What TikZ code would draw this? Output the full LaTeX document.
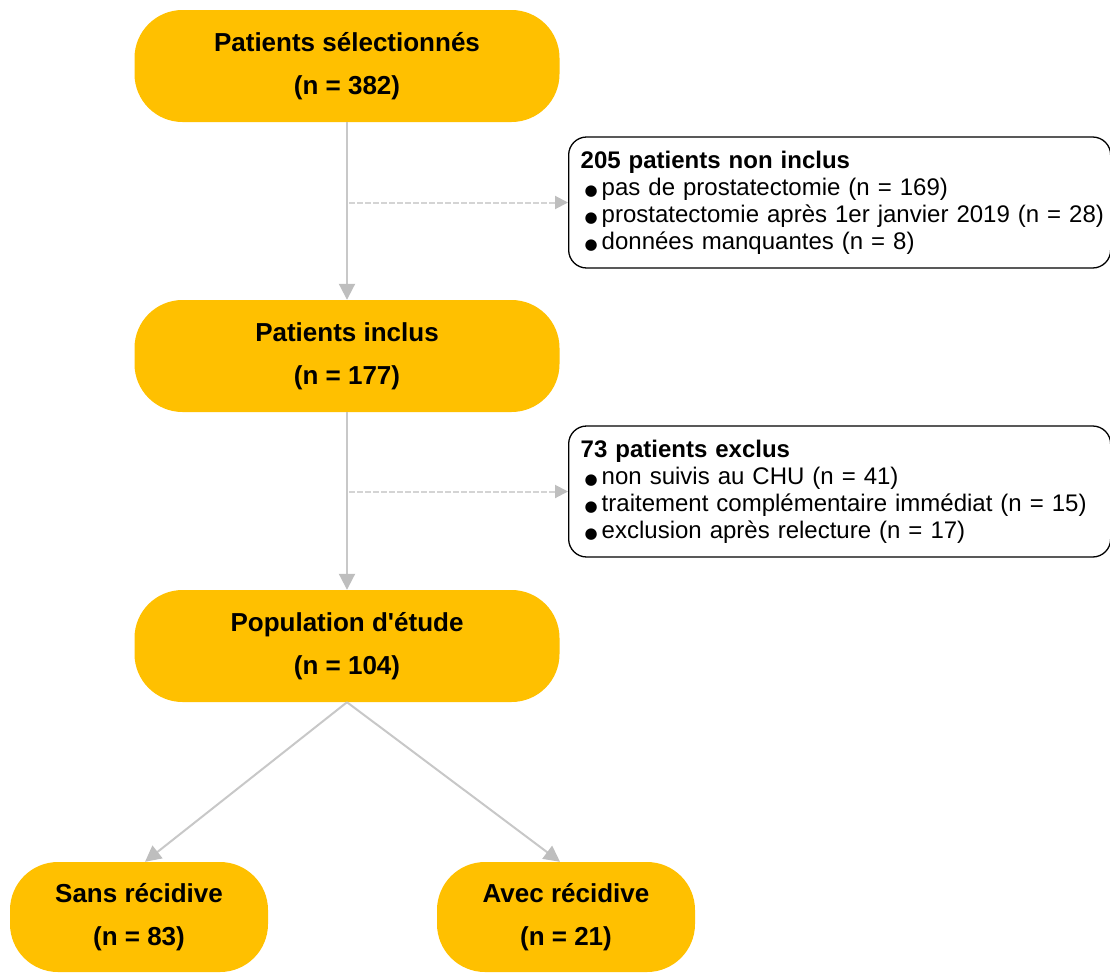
\documentclass[tikz,border=0pt]{standalone}
\usepackage{fontspec}
\setmainfont{Liberation Sans}
\newfontfamily\symboles{DejaVu Sans}
\usetikzlibrary{arrows.meta,positioning}
\definecolor{jaune}{HTML}{FFC000}
\definecolor{gris}{HTML}{C8C8C8}
\definecolor{grisclair}{HTML}{D4D4D4}
\definecolor{pointe}{HTML}{BEBEBE}
\newcommand{\puce}{\hspace*{4pt}{\symboles\fontsize{15}{27}\selectfont ●}\hspace{4pt}}
\tikzset{
	etape/.style={fill=jaune, rounded corners=48pt, minimum width=425pt, minimum height=112pt, align=center, inner sep=0pt, font=\fontsize{26}{43}\selectfont\bfseries},
	issue/.style={etape, minimum width=258pt, minimum height=110pt},
	exclus/.style={draw=black, line width=1.3pt, rounded corners=18pt, minimum height=131pt, text width=518pt, inner xsep=12pt, inner ysep=0pt, align=left, anchor=west, font=\fontsize{24}{27}\selectfont},
	fleche/.style={draw=gris, line width=2pt, -{Triangle[length=16pt,width=16pt,color=pointe]}},
	pointille/.style={draw=grisclair, line width=2pt, dash pattern=on 6pt off 2pt, -{Triangle[length=13pt,width=13pt,color=pointe]}}
}

\begin{document}
\begin{tikzpicture}[x=1pt, y=-1pt]
			%%%%% START %%%%%
			\useasboundingbox (0, 0) rectangle (1110, 972);
			
			\node[etape] (selection) at (347, 66) {Patients sélectionnés\\(n = 382)};
			\node[etape] (inclus) at (347, 356) {Patients inclus\\(n = 177)};
			\node[etape] (population) at (347, 646) {Population d\textquotesingle étude\\(n = 104)};
			
			\node[issue] (sans) at (139, 917) {Sans récidive\\(n = 83)};
			\node[issue] (avec) at (566, 917) {Avec récidive\\(n = 21)};
			
			\node[exclus] (noninclus) at (568, 202.5) {{\bfseries 205 patients non inclus}\\
				\puce pas de prostatectomie (n = 169)\\
				\mbox{\puce prostatectomie après 1er janvier 2019 (n = 28)}\\
				\puce données manquantes (n = 8)};
			\node[exclus] (exclusion) at (568, 491.5) {{\bfseries 73 patients exclus}\\
				\puce non suivis au CHU (n = 41)\\
				\puce traitement complémentaire immédiat (n = 15)\\
				\puce exclusion après relecture (n = 17)};
			
			\draw[fleche] (selection) -- (inclus);
			\draw[fleche] (inclus) -- (population);
			\draw[pointille] ([xshift=2pt]selection.south |- noninclus.west) -- (noninclus.west);
			\draw[pointille] ([xshift=2pt]inclus.south |- exclusion.west) -- (exclusion.west);
			
			\draw[fleche] (population.south) -- ([xshift=6pt]sans.north);
			\draw[fleche] (population.south) -- ([xshift=-6pt]avec.north);
			
			%%%%% END %%%%%
\end{tikzpicture}
\end{document}
